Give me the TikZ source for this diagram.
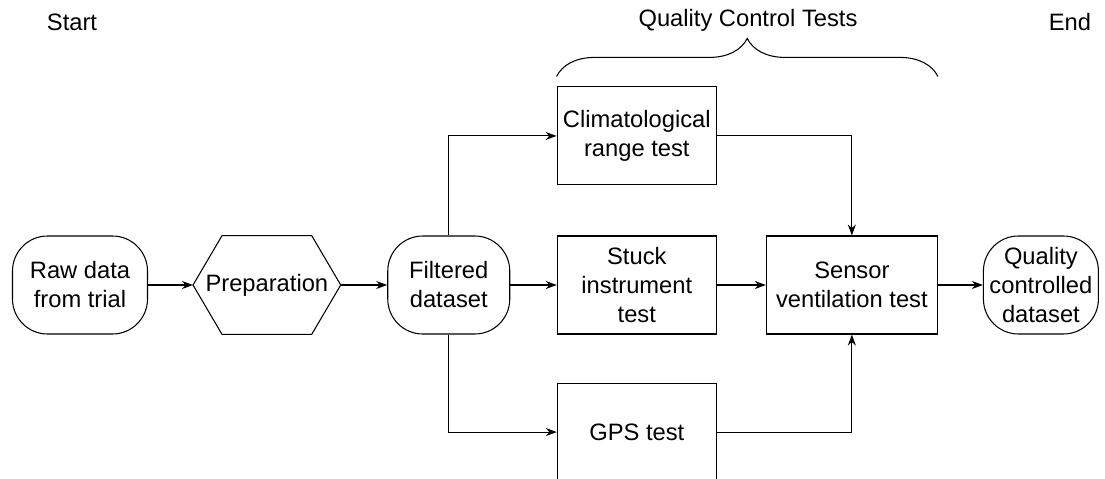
\documentclass[tikz,border=0pt]{standalone}
\usepackage{fontspec}
\setmainfont{Liberation Sans}
\usetikzlibrary{arrows.meta, positioning, decorations.pathreplacing}
\tikzstyle{term} = [rectangle, rounded corners=0.7cm, minimum height=1.96cm, inner xsep=0.1cm, text centered, align=center, draw=black, line width=0.6pt]
\tikzstyle{prep} = [rectangle, minimum width=2.94cm, minimum height=1.96cm, inner sep=0pt, text centered]
\tikzstyle{test} = [rectangle, minimum width=3.18cm, minimum height=1.96cm, text centered, align=center, draw=black, line width=0.6pt]
\tikzstyle{arrow} = [line width=0.6pt, ->, >={Stealth[length=2.2mm, width=1.6mm]}]

\begin{document}
\begin{tikzpicture}[node distance=1cm and 0.93cm, font=\fontsize{13.5}{16.5}\selectfont]
	\useasboundingbox (0,0) rectangle (22.1,-9.58);
	\node (raw) [term, minimum width=2.7cm] at (1.6,-5.7) {Raw data\\from trial};
	\node (preparation) [prep, right=0.9cm of raw] {Preparation};
	\draw [line width=0.6pt] (preparation.west) -- ([xshift=0.58cm]preparation.north west) -- ([xshift=-0.58cm]preparation.north east)
		-- (preparation.east) -- ([xshift=-0.58cm]preparation.south east) -- ([xshift=0.58cm]preparation.south west) -- cycle;
	\node (filtered) [term, minimum width=2.44cm, right=of preparation] {Filtered\\dataset};
	\node (stuck) [test, right=of filtered] {Stuck\\instrument\\test};
	\node (climat) [test, above=of stuck] {Climatological\\range test};
	\node (gps) [test, below=0.96cm of stuck] {GPS test};
	\node (sensor) [test, minimum width=3.42cm, right=0.98cm of stuck] {Sensor\\ventilation test};
	\node (quality) [term, minimum width=2.3cm, right=0.9cm of sensor] {Quality\\controlled\\dataset};
	% labels on top
	\node (start) at (1.44,-0.44) {Start};
	\node (end) at (21.4,-0.44) {End};
	\coordinate (bracel) at ([yshift=0.2cm]climat.north west);
	\coordinate (bracer) at (bracel -| sensor.east);
	\draw [line width=0.6pt, decorate, decoration={brace, amplitude=0.76cm}] (bracel) -- (bracer);
	\node (qct) at (14.96,-0.4) {Quality Control Tests};
	% connectors
	\draw [arrow] (raw) -- (preparation);
	\draw [arrow] (preparation) -- (filtered);
	\draw [arrow] (filtered) -- (stuck);
	\draw [arrow] (filtered.north) |- (climat.west);
	\draw [arrow] (filtered.south) |- (gps.west);
	\draw [arrow] (stuck) -- (sensor);
	\draw [arrow] (climat.east) -| (sensor.north);
	\draw [arrow] (gps.east) -| (sensor.south);
	\draw [arrow] (sensor) -- (quality);
\end{tikzpicture}
\end{document}
